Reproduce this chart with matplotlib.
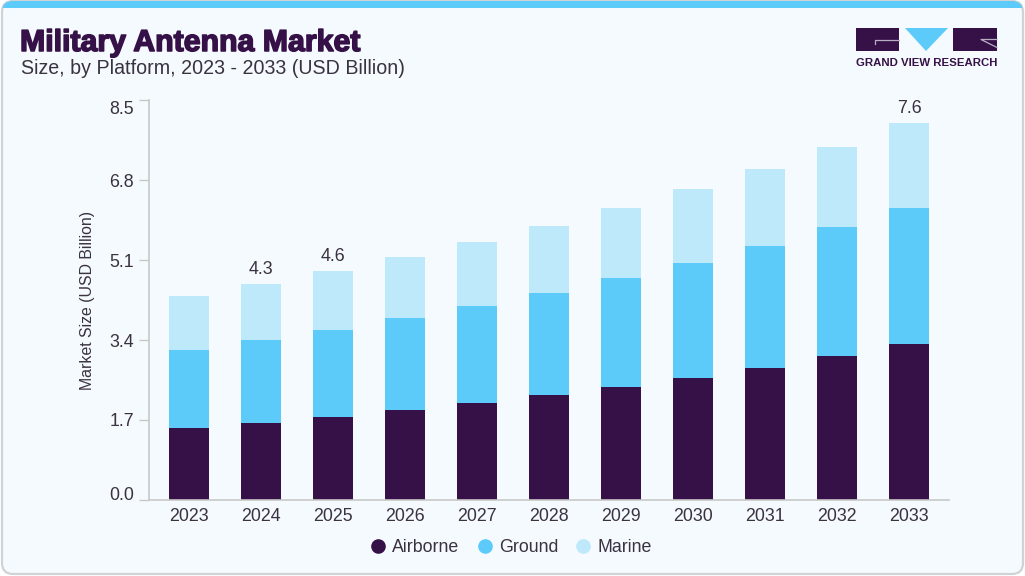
import matplotlib
matplotlib.use("Agg")
import matplotlib.pyplot as plt
import matplotlib.patheffects as pe
from matplotlib.patches import FancyBboxPatch, Polygon, Rectangle
from matplotlib.transforms import ScaledTranslation
import numpy as np

years = ["2023", "2024", "2025", "2026", "2027", "2028", "2029", "2030", "2031", "2032", "2033"]
airborne = [1.53, 1.64, 1.76, 1.91, 2.06, 2.23, 2.40, 2.59, 2.80, 3.06, 3.31]
ground = [1.66, 1.76, 1.85, 1.96, 2.06, 2.17, 2.32, 2.45, 2.60, 2.74, 2.89]
marine = [1.14, 1.19, 1.26, 1.29, 1.36, 1.42, 1.48, 1.57, 1.63, 1.70, 1.81]
yticks = [0.0, 1.7, 3.4, 5.1, 6.8, 8.5]
# only these years carry a total label in the picture
total_labels = {"2024": "4.3", "2025": "4.6", "2033": "7.6"}

DARK = "#361148"
BLUE = "#5CCBFA"
LIGHT = "#BDE9FB"
TEXT = "#3A3240"
CARD = "#F4FAFD"
W, H = 1025, 576

plt.rcParams["font.family"] = ["Liberation Sans", "DejaVu Sans"]
fig = plt.figure(figsize=(W / 100, H / 100), dpi=100, facecolor="white")

# page coordinates in pixels, origin top left
bg = fig.add_axes([0, 0, 1, 1], zorder=0)
bg.set_xlim(0, W)
bg.set_ylim(H, 0)
bg.axis("off")

# card with border, then blue band clipped to the top of it
card = FancyBboxPatch((2, 1), W - 4, H - 3, boxstyle="round,pad=0,rounding_size=11",
                      fc=CARD, ec="#CFD3D6", lw=1.6)
bg.add_patch(card)
band = Rectangle((0, 0), W, 8, fc=BLUE, ec="none")
bg.add_patch(band)
band.set_clip_path(card)

title = bg.text(20, 43, "Military Antenna Market", fontsize=21.8, fontweight="bold",
                color=DARK, va="center", ha="left")
title.set_path_effects([pe.withStroke(linewidth=1.1, foreground=DARK)])
bg.text(21, 68.5, "Size, by Platform, 2023 - 2033 (USD Billion)", fontsize=14.1,
        color=TEXT, va="center", ha="left")

# logo
bg.add_patch(Rectangle((856, 28), 43, 23, fc=DARK, ec="none"))
bg.add_patch(Rectangle((953, 28), 44, 23, fc=DARK, ec="none"))
bg.add_patch(Polygon([(905, 28), (948, 28), (926, 51)], fc=BLUE, ec="none"))
bg.plot([899, 875, 875], [39.5, 39.5, 43.5], color="#B9AFC0", lw=0.9)
bg.plot([997, 981, 997], [39.5, 39.5, 47.5], color="#B9AFC0", lw=0.9)
bg.text(926.5, 63.5, "GRAND VIEW RESEARCH", fontsize=8.2, fontweight="bold", color=DARK,
        va="center", ha="center")

# plot area: x from 148.5 to 949, y from 100 to 500 px
ax = fig.add_axes([148.5 / W, 1 - 500 / H, (949 - 148.5) / W, 400 / H], zorder=1)
ax.patch.set_alpha(0)
x = np.arange(len(years))
bar_w = 40 / 72
ax.bar(x, airborne, bar_w, color=DARK, label="Airborne")
ax.bar(x, ground, bar_w, bottom=airborne, color=BLUE, label="Ground")
bottoms = np.array(airborne) + np.array(ground)
ax.bar(x, marine, bar_w, bottom=bottoms, color=LIGHT, label="Marine")

ax.set_xlim(-40.5 / 72, len(years) - 1 + 40 / 72)
ax.set_ylim(0, 8.5)
ax.set_xticks(x, years)
ax.set_yticks(yticks, [f"{t:.1f}" for t in yticks])
ax.tick_params(axis="x", length=0, pad=5.5, labelsize=12.8, labelcolor=TEXT)
ax.tick_params(axis="y", length=7.5, width=1, color="#C8C8C8", pad=3, labelsize=12.8, labelcolor=TEXT)
ax.set_ylabel("Market Size (USD Billion)", fontsize=11.4, color=TEXT, labelpad=10)
for side in ["top", "right"]:
    ax.spines[side].set_visible(False)
for side in ["left", "bottom"]:
    ax.spines[side].set_color("#C8C8C8")
    ax.spines[side].set_linewidth(1.2)

# end labels sit inside the axis range in the picture
lab = ax.get_yticklabels()
lab[0].set_transform(lab[0].get_transform() + ScaledTranslation(0, 6 / 100, fig.dpi_scale_trans))
lab[-1].set_transform(lab[-1].get_transform() + ScaledTranslation(0, -7 / 100, fig.dpi_scale_trans))

totals = bottoms + np.array(marine)
for i, yr in enumerate(years):
    if yr in total_labels:
        ax.annotate(total_labels[yr], (i, totals[i]), xytext=(0, 4.5), textcoords="offset points",
                    ha="center", va="bottom", fontsize=12.8, color=TEXT)

# legend drawn with round markers
handles = [plt.Line2D([], [], ls="", marker="o", ms=9.5, color=c) for c in [DARK, BLUE, LIGHT]]
fig.legend(handles, ["Airborne", "Ground", "Marine"], loc="center", bbox_to_anchor=(510 / W, 1 - 548 / H),
           ncol=3, frameon=False, fontsize=12.8, labelcolor=TEXT, handletextpad=0.25,
           columnspacing=0.85, handlelength=1.1)

fig.savefig("out.png", dpi=100, facecolor="white")
